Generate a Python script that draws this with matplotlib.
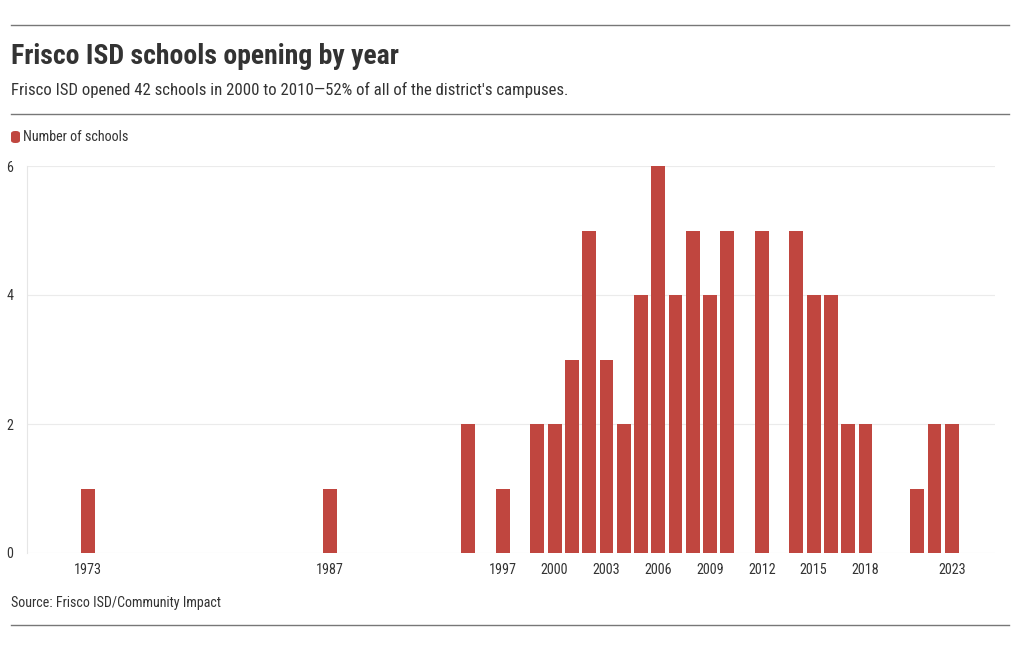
import matplotlib
matplotlib.use("Agg")
import matplotlib.pyplot as plt
from matplotlib.lines import Line2D
from matplotlib.patches import FancyBboxPatch

plt.rcParams['font.family'] = ['Roboto Condensed', 'Liberation Sans Narrow', 'Roboto', 'DejaVu Sans']

# data
years = [1973, 1987, 1995, 1997, 1999, 2000, 2001, 2002, 2003, 2004, 2005, 2006, 2007,
         2008, 2009, 2010, 2012, 2014, 2015, 2016, 2017, 2018, 2021, 2022, 2023]
schools = [1, 1, 2, 1, 2, 2, 3, 5, 3, 2, 4, 6, 4, 5, 4, 5, 5, 5, 4, 4, 2, 2, 1, 2, 2]
tick_years = [1973, 1987, 1997, 2000, 2003, 2006, 2009, 2012, 2015, 2018, 2023]
y_ticks = [0, 2, 4, 6]

bar_color = '#c0463f'
text_color = '#333333'

W, H = 1020, 650
fig = plt.figure(figsize=(W / 100, H / 100), dpi=100)
ax = fig.add_axes([27 / W, 1 - 553 / H, (995 - 27) / W, (553 - 166) / H])

ax.bar(years, schools, width=0.8, color=bar_color, zorder=3)
ax.set_xlim(1969.45, 2025.5)
ax.set_ylim(0, 6)
ax.set_yticks(y_ticks)
ax.set_xticks(tick_years)
ax.grid(axis='y', color='#ebebeb', linewidth=0.8, zorder=0)
for s in ['top', 'right', 'bottom']:
    ax.spines[s].set_visible(False)
ax.spines['left'].set_color('#e6e6e6')
ax.spines['left'].set_linewidth(0.8)
ax.tick_params(axis='y', length=0, pad=10, labelsize=10.2, labelcolor=text_color)
ax.tick_params(axis='x', length=0, pad=7, labelsize=10.2, labelcolor=text_color)

# header / footer
for yy in [25, 114, 625]:
    fig.add_artist(Line2D([11 / W, 1009 / W], [1 - yy / H, 1 - yy / H], color='#777777', linewidth=1))

fig.text(11 / W, 1 - 57 / H, 'Frisco ISD schools opening by year', fontsize=20,
         fontweight='bold', color=text_color, va='center')
fig.text(11 / W, 1 - 90 / H, "Frisco ISD opened 42 schools in 2000 to 2010\u201452% of all of the district's campuses.",
         fontsize=12.1, color=text_color, va='center')
fig.add_artist(FancyBboxPatch((11 / W, 1 - 143 / H), 9 / W, 12 / H,
                              boxstyle='round,pad=0,rounding_size=0.004',
                              facecolor=bar_color, edgecolor='none', transform=fig.transFigure))
fig.text(23 / W, 1 - 137 / H, 'Number of schools', fontsize=10.2, color=text_color, va='center')
fig.text(11 / W, 1 - 603 / H, 'Source: Frisco ISD/Community Impact', fontsize=10.1,
         color=text_color, va='center')

fig.savefig('out.png', dpi=100, facecolor='white')
